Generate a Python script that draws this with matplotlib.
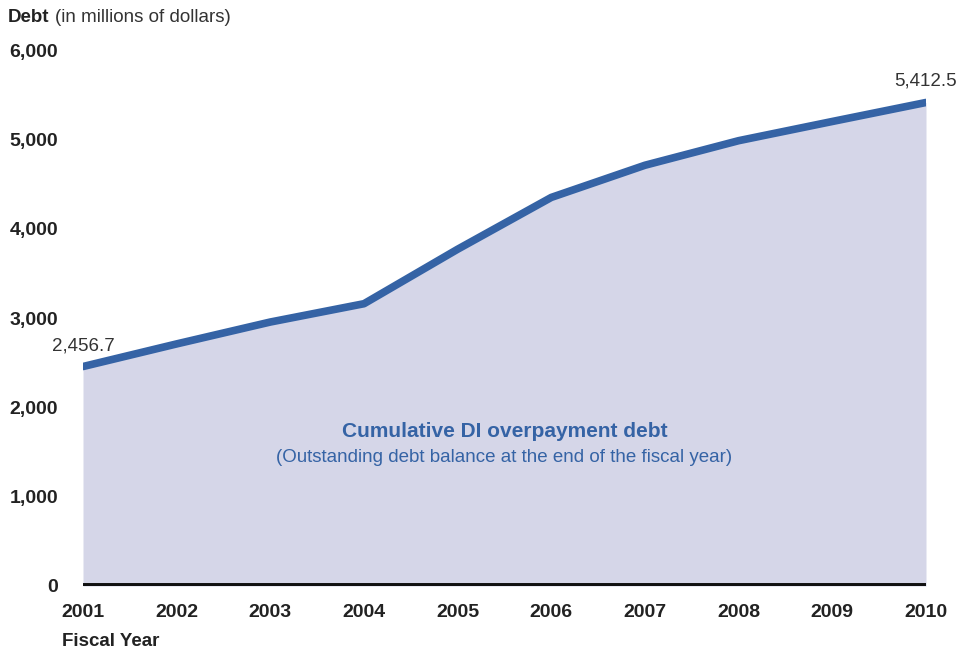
import numpy as np
import matplotlib.pyplot as plt

plt.rcParams['font.family'] = ['Liberation Sans', 'DejaVu Sans']

years = [2001, 2002, 2003, 2004, 2005, 2006, 2007, 2008, 2009, 2010]
debt = [2456.7, 2710, 2955, 3160, 3770, 4350, 4710, 4985, 5200, 5412.5]
yticks = [0, 1000, 2000, 3000, 4000, 5000, 6000]

line_col = '#3563a5'
fill_col = '#d5d6e8'

fig = plt.figure(figsize=(9.77, 6.56), dpi=100)
ax = fig.add_axes([83/977, 70/656, 843/977, 536/656])

ax.fill_between(years, debt, 0, color=fill_col, lw=0)
ax.plot(years, debt, color=line_col, lw=5.5, solid_capstyle='round', solid_joinstyle='round')
ax.axhline(0, color='#111111', lw=5, xmin=0, xmax=1)

ax.set_xlim(2001, 2010)
ax.set_ylim(0, 6000)
ax.set_xticks(years)
ax.set_xticklabels([str(y) for y in years], fontsize=14, fontweight='bold', color='#222222')
ax.set_yticks(yticks)
ax.set_yticklabels(['{:,}'.format(v) for v in yticks], fontsize=14, fontweight='bold', color='#222222')
ax.tick_params(length=0)
ax.tick_params(axis='y', pad=18)
ax.tick_params(axis='x', pad=13)
for s in ax.spines.values():
    s.set_visible(False)

# data labels on the ends
ax.annotate('{:,.1f}'.format(debt[0]), (years[0], debt[0]), xytext=(0, 9), textcoords='offset points',
            ha='center', va='bottom', fontsize=13.5, color='#333333')
ax.annotate('{:,.1f}'.format(debt[-1]), (years[-1], debt[-1]), xytext=(0, 9), textcoords='offset points',
            ha='center', va='bottom', fontsize=13.5, color='#333333')

ax.text(2005.5, 1730, 'Cumulative DI overpayment debt', ha='center', va='center',
        fontsize=15, fontweight='bold', color=line_col)
ax.text(2005.5, 1440, '(Outstanding debt balance at the end of the fiscal year)', ha='center', va='center',
        fontsize=13.5, color=line_col)

fig.text(8/977, 1 - 18/656, 'Debt', ha='left', va='center', fontsize=13.5, fontweight='bold', color='#222222')
fig.text(55/977, 1 - 18/656, '(in millions of dollars)', ha='left', va='center', fontsize=13.5, color='#333333')
fig.text(62/977, 1 - 642/656, 'Fiscal Year', ha='left', va='center', fontsize=13.5, fontweight='bold', color='#222222')

fig.savefig('out.png', dpi=100)
